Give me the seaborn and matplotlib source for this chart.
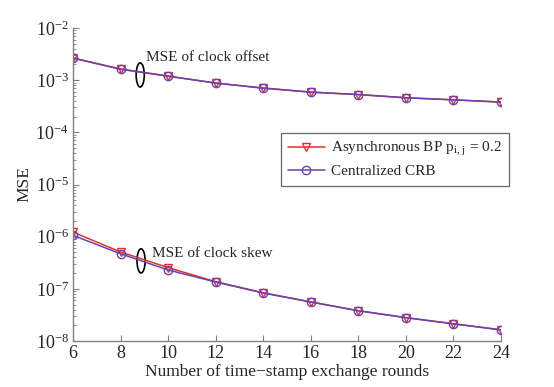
import numpy as np
import pandas as pd
import matplotlib
matplotlib.use("Agg")
import matplotlib.pyplot as plt
from matplotlib.patches import Ellipse
import seaborn as sns

# data
rounds = [6, 8, 10, 12, 14, 16, 18, 20, 22, 24]
offset_bp = [2.66e-3, 1.64e-3, 1.20e-3, 8.8e-4, 7.1e-4, 5.9e-4, 5.3e-4, 4.6e-4, 4.2e-4, 3.8e-4]
offset_crb = [2.64e-3, 1.62e-3, 1.19e-3, 8.8e-4, 7.0e-4, 5.9e-4, 5.3e-4, 4.6e-4, 4.2e-4, 3.8e-4]
skew_bp = [1.22e-6, 5.1e-7, 2.55e-7, 1.37e-7, 8.4e-8, 5.6e-8, 3.8e-8, 2.8e-8, 2.14e-8, 1.64e-8]
skew_crb = [1.06e-6, 4.7e-7, 2.3e-7, 1.35e-7, 8.3e-8, 5.6e-8, 3.8e-8, 2.8e-8, 2.13e-8, 1.63e-8]

bp_label = r"Asynchronous BP p$_{\mathregular{i,\,j}}$ = 0.2"
crb_label = "Centralized CRB"
red = "#e5302b"
purple = "#6843b0"

sns.set_style("ticks")
plt.rcParams["font.family"] = ["Liberation Serif", "DejaVu Serif"]
plt.rcParams["mathtext.fontset"] = "stix"
plt.rcParams["xtick.direction"] = "in"
plt.rcParams["ytick.direction"] = "in"

fig = plt.figure(figsize=(5.54, 3.87), dpi=100)
ax = fig.add_axes([0.1318, 0.1189, 0.7725, 0.8087])

df = pd.DataFrame({"rounds": rounds, "offset_bp": offset_bp, "offset_crb": offset_crb,
                   "skew_bp": skew_bp, "skew_crb": skew_crb})

for col, color, marker, label in [
    ("offset_bp", red, "v", bp_label),
    ("offset_crb", purple, "o", crb_label),
    ("skew_bp", red, "v", None),
    ("skew_crb", purple, "o", None),
]:
    sns.lineplot(data=df, x="rounds", y=col, ax=ax, color=color, marker=marker,
                 markersize=6, markerfacecolor="none", markeredgecolor=color,
                 markeredgewidth=1.0, linewidth=1.1, label=label, legend=False)

ax.set_yscale("log")
ax.set_xlim(6, 24)
ax.set_ylim(1e-8, 1e-2)
ax.set_xticks(rounds)
ax.set_yticks([1e-8, 1e-7, 1e-6, 1e-5, 1e-4, 1e-3, 1e-2])
ax.set_xlabel("Number of time\u2212stamp exchange rounds", fontsize=12.5, labelpad=1)
ax.set_ylabel("MSE", fontsize=12.5, labelpad=2)
ax.tick_params(axis="both", which="major", labelsize=13, length=4, color="#808080", pad=3)
ax.tick_params(axis="y", which="minor", length=2, color="#808080")
sns.despine(ax=ax)
for s in ["left", "bottom"]:
    ax.spines[s].set_color("#808080")
    ax.spines[s].set_linewidth(1.0)

# annotations
ax.add_patch(Ellipse((0.157, 0.85), 0.019, 0.077, transform=ax.transAxes,
                     fill=False, edgecolor="black", linewidth=1.2))
ax.text(0.171, 0.905, "MSE of clock offset", transform=ax.transAxes,
        fontsize=11, va="center", ha="left")
ax.add_patch(Ellipse((0.159, 0.256), 0.019, 0.077, transform=ax.transAxes,
                     fill=False, edgecolor="black", linewidth=1.2))
ax.text(0.185, 0.278, "MSE of clock skew", transform=ax.transAxes,
        fontsize=11, va="center", ha="left")

handles, labels = ax.get_legend_handles_labels()
leg = ax.legend(handles[:2], labels[:2], loc="upper left", bbox_to_anchor=(0.467, 0.69),
                fontsize=11, frameon=True, fancybox=False, edgecolor="#404040",
                handlelength=2.4, borderpad=0.5, labelspacing=0.4, handletextpad=0.4)
leg.get_frame().set_linewidth(0.9)

fig.savefig("out.png", dpi=100)
